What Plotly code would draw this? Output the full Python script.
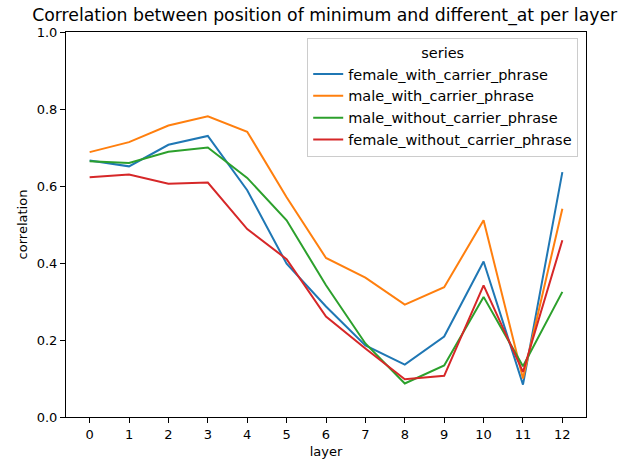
import plotly.graph_objects as go

layers = list(range(13))

female_with_carrier_phrase = [0.666, 0.651, 0.707, 0.730, 0.589, 0.398, 0.287, 0.186, 0.136, 0.209, 0.404, 0.084, 0.636]
male_with_carrier_phrase = [0.688, 0.714, 0.757, 0.781, 0.741, 0.571, 0.413, 0.362, 0.292, 0.337, 0.511, 0.100, 0.541]
male_without_carrier_phrase = [0.664, 0.660, 0.689, 0.700, 0.621, 0.511, 0.342, 0.191, 0.087, 0.134, 0.312, 0.132, 0.325]
female_without_carrier_phrase = [0.623, 0.630, 0.606, 0.609, 0.488, 0.410, 0.261, 0.178, 0.098, 0.107, 0.342, 0.117, 0.459]

series = [
    ("female_with_carrier_phrase", female_with_carrier_phrase, "#1f77b4"),
    ("male_with_carrier_phrase", male_with_carrier_phrase, "#ff7f0e"),
    ("male_without_carrier_phrase", male_without_carrier_phrase, "#2ca02c"),
    ("female_without_carrier_phrase", female_without_carrier_phrase, "#d62728"),
]

font_family = "DejaVu Sans"

fig = go.Figure()
for name, values, color in series:
    fig.add_trace(go.Scatter(
        x=layers, y=values, name=name, mode="lines",
        line=dict(color=color, width=2),
    ))

axis_common = dict(
    showgrid=False, zeroline=False, automargin=False,
    showline=True, linecolor="black", linewidth=1, mirror=True,
    ticks="outside", ticklen=5, tickcolor="black", tickwidth=1,
    tickfont=dict(family=font_family, size=13, color="black"),
)

fig.update_layout(
    width=622, height=467,
    margin=dict(l=66, r=36, t=32, b=50),
    paper_bgcolor="white", plot_bgcolor="white",
    font=dict(family=font_family, size=13, color="black"),
    title=dict(
        text="Correlation between position of minimum and different_at per layer",
        x=0.522, xanchor="center",
        y=1 - 15 / 467, yanchor="middle",
        font=dict(family=font_family, size=17.3, color="black"),
    ),
    xaxis=dict(
        range=[-0.6, 12.6], tickmode="array", tickvals=layers,
        ticktext=[str(v) for v in layers],
        title=dict(text="layer", font=dict(size=13), standoff=6),
        **axis_common,
    ),
    yaxis=dict(
        range=[0, 1.0], tickmode="array",
        tickvals=[0, 0.2, 0.4, 0.6, 0.8, 1.0],
        ticktext=["0.0", "0.2", "0.4", "0.6", "0.8", "1.0"],
        title=dict(text="correlation", font=dict(size=13), standoff=6),
        **axis_common,
    ),
    legend=dict(
        title=dict(text="series", side="top center", font=dict(size=14.5)),
        x=0.985, xanchor="right", y=0.984, yanchor="top",
        bordercolor="#cccccc", borderwidth=1, bgcolor="rgba(255,255,255,0.8)",
        font=dict(family=font_family, size=14.5, color="black"),
    ),
    showlegend=True,
)

fig.write_html("out.html")
